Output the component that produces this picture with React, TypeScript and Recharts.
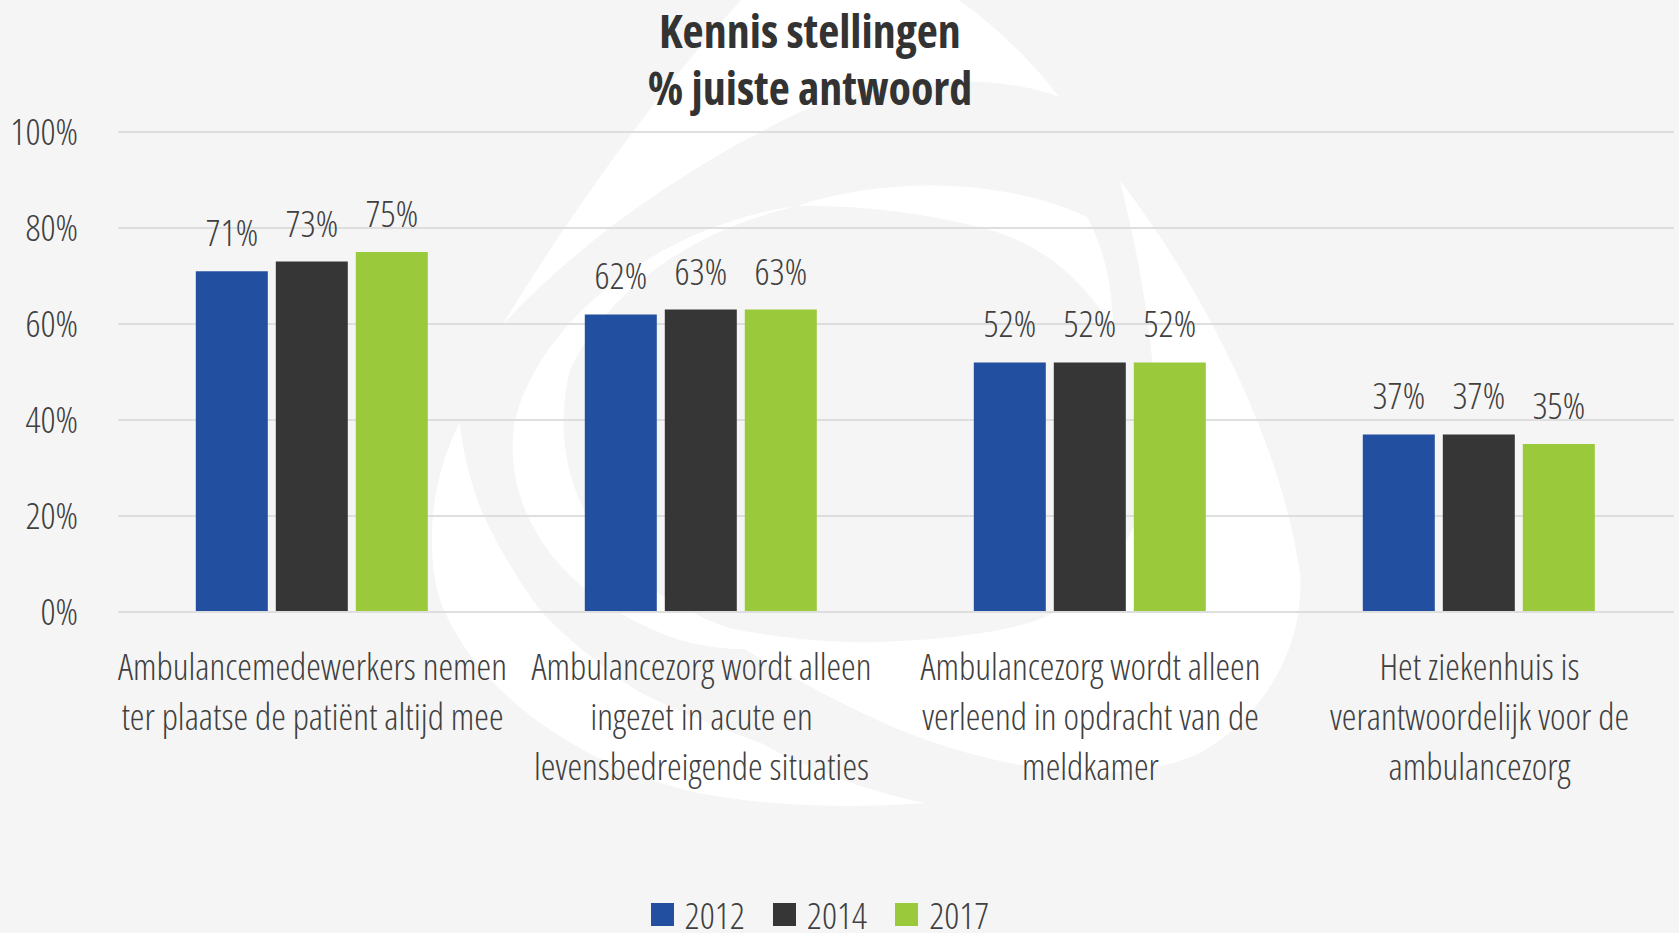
import React from "react";
import { BarChart, Bar, XAxis, YAxis, CartesianGrid, Legend, LabelList } from "recharts";

const categories = [
  "Ambulancemedewerkers nemen ter plaatse de patiënt altijd mee",
  "Ambulancezorg wordt alleen ingezet in acute en levensbedreigende situaties",
  "Ambulancezorg wordt alleen verleend in opdracht van de meldkamer",
  "Het ziekenhuis is verantwoordelijk voor de ambulancezorg",
];
const categoryLines = [
  ["Ambulancemedewerkers nemen", "ter plaatse de patiënt altijd mee"],
  ["Ambulancezorg wordt alleen", "ingezet in acute en", "levensbedreigende situaties"],
  ["Ambulancezorg wordt alleen", "verleend in opdracht van de", "meldkamer"],
  ["Het ziekenhuis is", "verantwoordelijk voor de", "ambulancezorg"],
];
const values2012 = [71, 62, 52, 37];
const values2014 = [73, 63, 52, 37];
const values2017 = [75, 63, 52, 35];
const yTicks = [0, 20, 40, 60, 80, 100];
const titleLines = ["Kennis stellingen", "% juiste antwoord"];

const COLORS = { "2012": "#234fa0", "2014": "#363636", "2017": "#9bc93c" };
const FONT = "'Open Sans', sans-serif";
const TEXT = "#404040";

const data = categories.map((name, i) => ({
  name,
  "2012": values2012[i],
  "2014": values2014[i],
  "2017": values2017[i],
}));

const CategoryTick = (props: any) => {
  const { x, y, index } = props;
  const lines = categoryLines[index] || [];
  return (
    <text x={x} y={y + 68} textAnchor="middle" fill={TEXT} fontFamily={FONT} fontSize={37} fontWeight={300} style={{ fontStretch: "75%" }}>
      {lines.map((l, i) => (
        <tspan key={i} x={x} dy={i === 0 ? 0 : 50}>
          {l}
        </tspan>
      ))}
    </text>
  );
};

const LegendContent = () => (
  <div style={{ height: 40, display: "flex", justifyContent: "center", alignItems: "center" }}>
    {(["2012", "2014", "2017"] as const).map((k) => (
      <div key={k} style={{ display: "flex", alignItems: "center", margin: "0 14px" }}>
        <span style={{ width: 23, height: 23, background: COLORS[k], display: "inline-block", marginRight: 11 }} />
        <span style={{ fontFamily: FONT, fontSize: 37, fontWeight: 300, fontStretch: "75%", color: TEXT }}>{k}</span>
      </div>
    ))}
  </div>
);

// faint logo watermark behind the chart
const Watermark = () => (
  <svg width={1679} height={933} style={{ position: "absolute", left: 0, top: 0 }}>
    <g fill="#ffffff">
      {/* top blade */}
      <path d="M503 324 C560 230 650 100 741 0 L959 0 C1000 30 1035 65 1059 97 C990 70 880 80 800 112 C720 150 600 220 503 324 Z" />
      {/* inner ring, upper right */}
      <path d="M797 206 C880 178 1000 176 1087 217 C1105 250 1113 290 1113 329 C1090 290 1050 245 983 228 C920 212 860 205 797 206 Z" />
      {/* inner ring, left */}
      <path d="M797 206 C660 225 540 320 515 420 C500 510 560 600 680 640 C720 652 760 650 790 646 C720 630 650 600 610 550 C565 495 555 430 570 370 C610 285 700 228 797 206 Z" />
      {/* right blade */}
      <path d="M1120 181 C1190 270 1280 430 1300 574 C1305 650 1260 720 1200 753 C1120 790 1000 770 900 730 C830 700 760 660 703 623 C780 640 850 645 900 641 C960 638 1010 630 1040 619 C1100 595 1140 540 1153 462 C1160 400 1150 300 1120 181 Z" />
      {/* bottom-left blade */}
      <path d="M460 422 C430 480 425 550 440 600 C470 680 560 760 697 793 C780 808 860 808 925 803 C860 790 800 765 763 744 C700 720 650 700 630 686 C580 650 545 620 530 596 C505 560 485 520 480 507 C470 480 462 450 460 422 Z" />
    </g>
  </svg>
);

export default function App() {
  return (
    <div style={{ position: "absolute", left: 0, top: 0, width: 1679, height: 933, background: "#f5f5f5", overflow: "hidden" }}>
      <Watermark />
      <div
        style={{
          position: "absolute",
          left: 560,
          width: 500,
          top: 2,
          textAlign: "center",
          fontFamily: FONT,
          fontWeight: 700,
          fontStretch: "75%",
          fontSize: 46,
          lineHeight: "57px",
          color: "#333333",
        }}
      >
        {titleLines.map((t) => (
          <div key={t}>{t}</div>
        ))}
      </div>
      <div style={{ position: "absolute", left: 0, top: 0 }}>
        <BarChart
          width={1679}
          height={933}
          data={data}
          margin={{ top: 132, right: 5, left: 0, bottom: 0 }}
          barCategoryGap="20%"
          barGap={8}
        >
          <CartesianGrid vertical={false} stroke="#dedede" strokeWidth={2} />
          <XAxis
            dataKey="name"
            axisLine={{ stroke: "#dedede", strokeWidth: 2 }}
            tickLine={false}
            tickSize={0}
            tickMargin={0}
            interval={0}
            height={281}
            tick={<CategoryTick />}
          />
          <YAxis
            width={118}
            domain={[0, 100]}
            ticks={yTicks}
            tickFormatter={(v: number) => `${v}%`}
            axisLine={false}
            tickLine={false}
            tickSize={0}
            tickMargin={40}
            tick={{ fill: TEXT, fontFamily: FONT, fontSize: 37, fontWeight: 300, style: { fontStretch: "75%" } }}
          />
          <Legend verticalAlign="bottom" content={<LegendContent />} wrapperStyle={{ left: 0, width: 1640, bottom: -1 }} />
          {(["2012", "2014", "2017"] as const).map((k) => (
            <Bar key={k} dataKey={k} fill={COLORS[k]} isAnimationActive={false}>
              <LabelList
                dataKey={k}
                position="top"
                offset={25}
                formatter={(v: number) => `${v}%`}
                fill={TEXT}
                fontFamily={FONT}
                fontSize={37}
                fontWeight={300}
                style={{ fontStretch: "75%" }}
              />
            </Bar>
          ))}
        </BarChart>
      </div>
    </div>
  );
}
